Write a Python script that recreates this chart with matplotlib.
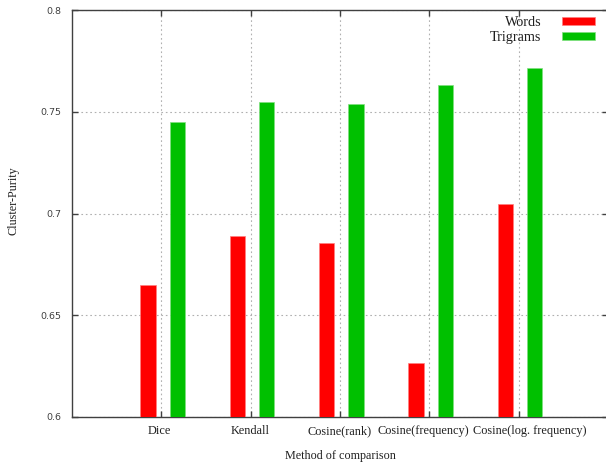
import numpy as np
import matplotlib
matplotlib.use("Agg")
import matplotlib.pyplot as plt
import matplotlib.transforms as mtransforms
from matplotlib.patches import Patch

methods = ["Dice", "Kendall", "Cosine(rank)", "Cosine(frequency)", "Cosine(log. frequency)"]
words = [0.665, 0.689, 0.6855, 0.6265, 0.7045]
trigrams = [0.745, 0.7548, 0.7538, 0.763, 0.7715]
yticks = [0.6, 0.65, 0.7, 0.75, 0.8]
ytick_labels = ["0.6", "0.65", "0.7", "0.75", "0.8"]
# horizontal nudge (px) of each category label so long names don't collide
label_shift = [-2, -1, 0, -6, 11]

W, H = 606, 466
fig = plt.figure(figsize=(W / 100, H / 100), dpi=100)
ax = fig.add_axes([72 / W, 1 - 417 / H, (608 - 72) / W, (417 - 10) / H])

x = np.arange(1, len(methods) + 1)
red = "#ff0000"
green = "#00c000"
ax.bar(x - 0.15, np.array(words) - 0.6, bottom=0.6, width=0.17, color=red,
       edgecolor="#ff8080", linewidth=0.5, zorder=3)
ax.bar(x + 0.18, np.array(trigrams) - 0.6, bottom=0.6, width=0.17, color=green,
       edgecolor="#80e080", linewidth=0.5, zorder=3)

ax.set_xlim(0, 6)
ax.set_ylim(0.6, 0.8)
ax.set_xticks(x)
ax.set_xticklabels([])
for xi, name, dx in zip(x, methods, label_shift):
    tr = ax.get_xaxis_transform() + mtransforms.ScaledTranslation(
        dx / 100, -8 / 100, fig.dpi_scale_trans)
    ax.text(xi, 0, name, transform=tr, ha="center", va="top",
            family="Liberation Serif", fontsize=8.8, color="#202020")
ax.set_yticks(yticks)
ax.set_yticklabels(ytick_labels, family="DejaVu Sans", fontsize=6.8, color="#404040")
ax.tick_params(axis="both", direction="in", length=4, width=1, color="#404040",
               top=True, right=True)
ax.tick_params(axis="y", pad=8)

ax.grid(True, color="#b0b0b0", linestyle=(0, (1.5, 2.5)), linewidth=0.8, zorder=0)

for side in ["left", "bottom", "top"]:
    ax.spines[side].set_color("#404040")
    ax.spines[side].set_linewidth(1)
ax.spines["right"].set_visible(False)

ax.set_xlabel("Method of comparison", family="Liberation Serif", fontsize=8.7,
              color="#202020")
ax.xaxis.set_label_coords(0.5, -(456 - 417) / 407)
ax.xaxis.label.set_va("center")
ax.set_ylabel("Cluster-Purity", family="Liberation Serif", fontsize=8.7,
              color="#202020")
ax.yaxis.set_label_coords((20 - 72) / 536, (417 - 201) / 407)

handles = [Patch(facecolor=red, edgecolor="#ff8080", linewidth=0.5),
           Patch(facecolor=green, edgecolor="#80e080", linewidth=0.5)]
leg = fig.legend(handles, ["Words", "Trigrams"], loc="upper right",
                 bbox_to_anchor=(595 / W, 1 - 16 / H), bbox_transform=fig.transFigure,
                 frameon=False, markerfirst=False, borderpad=0, borderaxespad=0,
                 handlelength=2.3, handleheight=0.45, handletextpad=1.5,
                 labelspacing=0.15, prop={"family": "Liberation Serif", "size": 10.2})
for t in leg.get_texts():
    t.set_color("#202020")

fig.savefig("out.png", dpi=100)
